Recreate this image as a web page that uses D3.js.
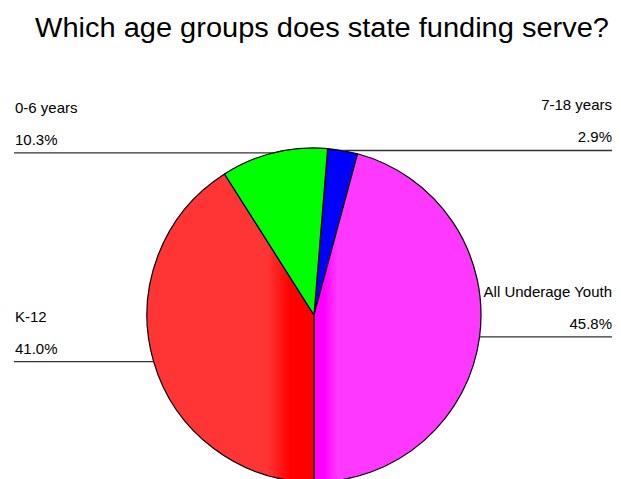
<!DOCTYPE html>
<html>
<head>
<meta charset="utf-8">
<script src="https://cdn.jsdelivr.net/npm/d3@7"></script>
<style>
  body { margin: 0; background: #fff; }
  text { font-family: "Liberation Sans", Arial, sans-serif; fill: #000; }
</style>
</head>
<body>
<div id="chart"></div>
<script>
const title = "Which age groups does state funding serve?";
// clockwise order, starting just right of 12 o'clock
const categories = ["7-18 years", "All Underage Youth", "K-12", "0-6 years"];
const values = [2.9, 45.8, 41.0, 10.3];
const colors = ["#0000ff", "#ff00ff", "#ff0000", "#00ff00"];
const lightColors = ["#0000ff", "#ff38ff", "#ff3535", "#40ff40"];

const width = 621, height = 479;
const cx = 314, cy = 315, radius = 167;

const svg = d3.select("#chart").append("svg")
    .attr("width", width).attr("height", height);

svg.append("text")
    .attr("x", 322).attr("y", 37)
    .attr("text-anchor", "middle")
    .style("font-size", "27px")
    .attr("textLength", 574).attr("lengthAdjust", "spacingAndGlyphs")
    .text(title);

const data = categories.map((c, i) => ({ name: c, value: values[i], i }));

// the first two slices end exactly at 6 o'clock
const total = d3.sum(values);
const start = Math.PI - (values[0] + values[1]) / total * 2 * Math.PI;

const pie = d3.pie().sort(null).value(d => d.value)
    .startAngle(start).endAngle(start + 2 * Math.PI);
const arcs = pie(data);

const arc = d3.arc().innerRadius(0).outerRadius(radius);

// shading: lighter hatched look away from the centre line
const defs = svg.append("defs");
arcs.forEach(a => {
    const g = defs.append("linearGradient")
        .attr("id", "grad" + a.data.i)
        .attr("gradientUnits", "userSpaceOnUse")
        .attr("x1", -radius).attr("x2", radius)
        .attr("y1", 0).attr("y2", 0);
    const c = colors[a.data.i], l = lightColors[a.data.i];
    if (a.data.name === "K-12") {
        g.append("stop").attr("offset", 0).attr("stop-color", l);
        g.append("stop").attr("offset", 0.36).attr("stop-color", l);
        g.append("stop").attr("offset", 0.43).attr("stop-color", c);
        g.append("stop").attr("offset", 1).attr("stop-color", c);
    } else if (a.data.name === "All Underage Youth") {
        g.append("stop").attr("offset", 0).attr("stop-color", c);
        g.append("stop").attr("offset", 0.53).attr("stop-color", c);
        g.append("stop").attr("offset", 0.57).attr("stop-color", l);
        g.append("stop").attr("offset", 1).attr("stop-color", l);
    } else {
        g.append("stop").attr("offset", 0).attr("stop-color", c);
        g.append("stop").attr("offset", 1).attr("stop-color", c);
    }
});

svg.append("g")
    .attr("transform", `translate(${cx},${cy})`)
    .selectAll("path")
    .data(arcs)
    .enter()
    .append("path")
    .attr("d", arc)
    .attr("fill", d => `url(#grad${d.data.i})`)
    .attr("stroke", "#000")
    .attr("stroke-width", 1.2)
    .attr("stroke-linejoin", "round");

// labels with horizontal leader lines to the middle of each slice's rim
const lineLeft = 14, lineRight = 612;
arcs.forEach(a => {
    const mid = (a.startAngle + a.endAngle) / 2;
    const px = cx + radius * Math.sin(mid);
    const py = cy - radius * Math.cos(mid);
    const right = px > cx;

    svg.append("line")
        .attr("x1", right ? px : lineLeft)
        .attr("x2", right ? lineRight : px)
        .attr("y1", py).attr("y2", py)
        .attr("stroke", "#333")
        .attr("stroke-width", 1.3);

    const tx = right ? lineRight : lineLeft + 1;
    const anchor = right ? "end" : "start";
    svg.append("text")
        .attr("x", tx).attr("y", py - 40)
        .attr("text-anchor", anchor)
        .style("font-size", "15px")
        .text(a.data.name);
    svg.append("text")
        .attr("x", tx).attr("y", py - 8)
        .attr("text-anchor", anchor)
        .style("font-size", "15px")
        .text(a.data.value.toFixed(1) + "%");
});
</script>
</body>
</html>
